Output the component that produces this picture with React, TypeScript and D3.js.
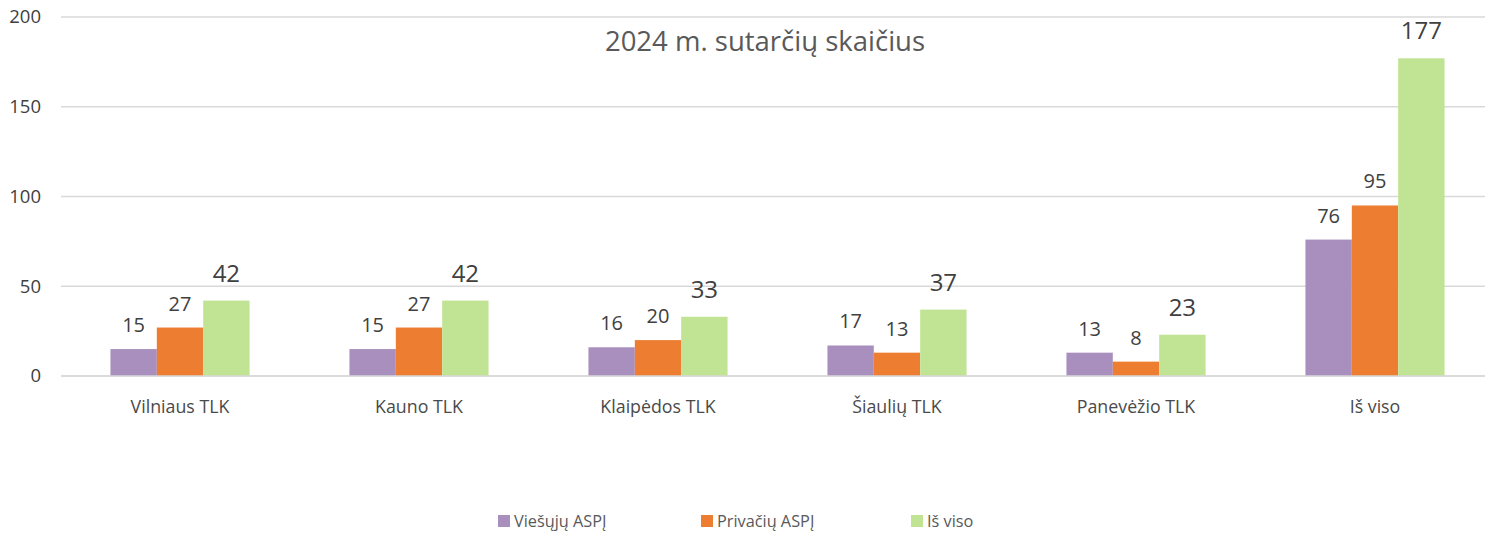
import React from 'react';
import * as d3 from 'd3';

// chart data
const categories = ['Vilniaus TLK', 'Kauno TLK', 'Klaipėdos TLK', 'Šiaulių TLK', 'Panevėžio TLK', 'Iš viso'];
const seriesNames = ['Viešųjų ASPĮ', 'Privačių ASPĮ', 'Iš viso'];
const viesuju = [15, 15, 16, 17, 13, 76];
const privaciu = [27, 27, 20, 13, 8, 95];
const isViso = [42, 42, 33, 37, 23, 177];
const yTicks = [0, 50, 100, 150, 200];
const title = '2024 m. sutarčių skaičius';

const colors = ['#a98fbd', '#ed7d31', '#c0e394'];
const font = '"Open Sans", sans-serif';
const textColor = '#404040';

export default function App() {
    const width = 1485, height = 533;
    const series = [viesuju, privaciu, isViso];

    // set up scales
    const x = d3.scaleBand<string>()
        .domain(categories)
        .range([60.5, 1494.5])
        .paddingInner(0.418)
        .paddingOuter(0.209);
    const inner = d3.scaleBand<number>()
        .domain([0, 1, 2])
        .range([0, x.bandwidth()]);
    const y = d3.scaleLinear().domain([0, 200]).range([376, 17]);

    const legendX = [498, 701, 911];

    return (
        <svg width={width} height={height} style={{ position: 'absolute', left: 0, top: 0, background: '#fff' }}
            fontFamily={font}>
            {/* gridlines and y axis labels */}
            {yTicks.map(t => (
                <g key={t}>
                    <line x1={61} x2={1494} y1={y(t)} y2={y(t)} stroke="#d9d9d9" strokeWidth={1.5} />
                    <text x={41} y={y(t)} dy="0.35em" textAnchor="end" fontSize={18.5} fill={textColor}>{t}</text>
                </g>
            ))}

            {/* bars */}
            {categories.map((c, i) => (
                <g key={c} transform={`translate(${x(c)},0)`}>
                    {series.map((s, j) => (
                        <rect key={j} x={inner(j)} y={y(s[i])} width={inner.bandwidth()}
                            height={y(0) - y(s[i])} fill={colors[j]} />
                    ))}
                    {series.map((s, j) => (
                        <text key={'l' + j} x={(inner(j) as number) + inner.bandwidth() / 2}
                            y={y(s[i]) - (j === 2 ? 19 : 17)} textAnchor="middle"
                            fontSize={j === 2 ? 24 : 20} fill={textColor}>{s[i]}</text>
                    ))}
                    <text x={x.bandwidth() / 2} y={413} textAnchor="middle" fontSize={17.8} fill="#4a4a4a">{c}</text>
                </g>
            ))}

            <line x1={61} x2={1494} y1={y(0)} y2={y(0)} stroke="#d9d9d9" strokeWidth={1.5} />

            {/* title */}
            <text x={765} y={51} textAnchor="middle" fontSize={27.5} fill="#595959">{title}</text>

            {/* legend */}
            {seriesNames.map((n, j) => (
                <g key={n} transform={`translate(${legendX[j]},515)`}>
                    <rect x={0} y={0} width={12} height={12} fill={colors[j]} />
                    <text x={16} y={6} dy="0.35em" fontSize={16.3} fill="#595959">{n}</text>
                </g>
            ))}
        </svg>
    );
}
